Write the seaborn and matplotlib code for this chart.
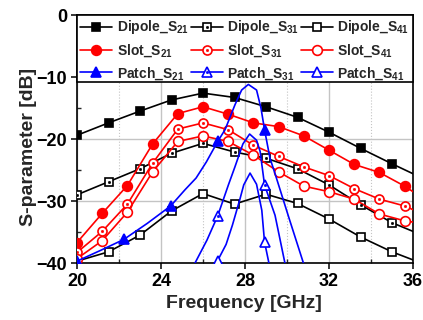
import numpy as np
import pandas as pd
import matplotlib
matplotlib.use("Agg")
import matplotlib.pyplot as plt
from matplotlib.legend_handler import HandlerTuple
from matplotlib.ticker import MultipleLocator
from matplotlib.patches import Rectangle
import seaborn as sns

# ---------------- data ----------------
dipole_x = [20, 21.5, 23, 24.5, 26, 27.5, 29, 30.5, 32, 33.5, 35, 36]
dipole_s21 = [-19.4, -17.4, -15.5, -13.7, -12.6, -13.3, -14.8, -16.5, -18.9, -21.5, -24.0, -25.6]
dipole_s31 = [-29.0, -26.9, -24.8, -22.3, -20.7, -22.1, -23.1, -24.8, -27.4, -30.6, -33.5, -34.9]
dipole_s41 = [-39.7, -38.2, -35.5, -31.6, -28.8, -30.5, -28.9, -30.4, -32.9, -35.8, -38.2, -39.5]
dipole_marks = list(range(11))

slot_x = [20, 21.2, 22.4, 23.6, 24.8, 26, 27.2, 28.4, 29.6, 30.8, 32, 33.2, 34.4, 35.6, 36]
slot_s21 = [-36.7, -32.0, -27.5, -20.8, -15.9, -14.8, -16.0, -17.4, -18.0, -19.5, -21.8, -24.1, -25.4, -27.6, -28.5]
slot_s31 = [-38.3, -34.9, -30.5, -23.9, -18.4, -17.4, -18.5, -21.0, -22.8, -24.5, -25.9, -28.0, -29.7, -30.8, -31.4]
slot_s41 = [-39.3, -36.4, -31.8, -25.3, -20.4, -19.5, -20.4, -22.6, -25.3, -27.6, -28.5, -29.7, -32.1, -33.2, -33.4]
slot_marks = list(range(14))

patch21_x = [20, 21.1, 22.23, 23.35, 24.46, 25.14, 25.67, 26.16, 26.7, 27.05, 27.52, 27.84,
             28.16, 28.55, 28.76, 28.93, 29.19, 29.45, 30.1, 30.8]
patch21_y = [-39.7, -38.0, -36.2, -33.6, -30.8, -28.2, -26.3, -23.7, -20.4, -18.5, -14.5, -12.1,
             -11.2, -12.1, -15.0, -18.5, -23.1, -25.8, -32.8, -40.2]
patch21_marks = [0, 2, 4, 8, 15]

patch31_x = [25.5, 25.62, 26.19, 26.7, 27.21, 27.52, 27.9, 28.22, 28.55, 28.72, 28.93, 29.43, 29.9, 30.0]
patch31_y = [-41.0, -40.0, -36.3, -32.4, -27.4, -24.5, -20.8, -19.2, -20.2, -22.0, -27.4, -32.3, -40.0, -41.5]
patch31_marks = [3, 10]

patch41_x = [26.7, 27.1, 27.4, 27.75, 27.94, 28.24, 28.55, 28.8, 28.93, 29.2]
patch41_y = [-39.6, -37.0, -33.9, -29.8, -27.4, -25.5, -27.3, -31.5, -36.6, -41.0]
patch41_marks = [0, 8]

# ---------------- style ----------------
sns.set_theme(style="white")
plt.rcParams["font.family"] = ["Liberation Sans", "DejaVu Sans"]
plt.rcParams["font.weight"] = "bold"
plt.rcParams["mathtext.fontset"] = "custom"
plt.rcParams["mathtext.rm"] = "Liberation Sans:bold"
plt.rcParams["mathtext.bf"] = "Liberation Sans:bold"
plt.rcParams["mathtext.it"] = "Liberation Sans:bold"

fig = plt.figure(figsize=(4.23, 3.20), dpi=100)
ax = fig.add_axes([77 / 423, 1 - 263 / 320, 336 / 423, 248 / 320])

BLACK, RED, BLUE = "#000000", "#FF0000", "#0000FF"
LW = 1.2


def draw(x, y, color, marker, ms, filled, marks, dotted=False):
    df = pd.DataFrame({"f": x, "s": y})
    n0 = len(ax.lines)
    sns.lineplot(data=df, x="f", y="s", ax=ax, color=color, linewidth=LW,
                 marker=marker, markersize=ms, markevery=marks,
                 markerfacecolor=(color if filled else "white"),
                 markeredgecolor=color, markeredgewidth=1.2,
                 estimator=None, sort=False, zorder=3)
    main = ax.lines[n0]
    if dotted:
        n1 = len(ax.lines)
        sns.lineplot(data=df, x="f", y="s", ax=ax, color=color, linewidth=0,
                     marker="o", markersize=1.6, markevery=marks,
                     markerfacecolor=color, markeredgecolor=color,
                     markeredgewidth=0.5, estimator=None, sort=False, zorder=4)
        dot = ax.lines[n1]
        return (main, dot)
    return main


h = {}
h["Dipole_21"] = draw(dipole_x, dipole_s21, BLACK, "s", 6, True, dipole_marks)
h["Dipole_31"] = draw(dipole_x, dipole_s31, BLACK, "s", 5.5, False, dipole_marks, dotted=True)
h["Dipole_41"] = draw(dipole_x, dipole_s41, BLACK, "s", 6, False, dipole_marks)
h["Slot_21"] = draw(slot_x, slot_s21, RED, "o", 7, True, slot_marks)
h["Slot_31"] = draw(slot_x, slot_s31, RED, "o", 6.5, False, slot_marks, dotted=True)
h["Slot_41"] = draw(slot_x, slot_s41, RED, "o", 7, False, slot_marks)
h["Patch_21"] = draw(patch21_x, patch21_y, BLUE, "^", 7.5, True, patch21_marks)
h["Patch_31"] = draw(patch31_x, patch31_y, BLUE, "^", 7, False, patch31_marks, dotted=True)
h["Patch_41"] = draw(patch41_x, patch41_y, BLUE, "^", 7.5, False, patch41_marks)

ax.set_xlim(20, 36)
ax.set_ylim(-40, 0)
ax.xaxis.set_major_locator(MultipleLocator(4))
ax.xaxis.set_minor_locator(MultipleLocator(2))
ax.yaxis.set_major_locator(MultipleLocator(10))
ax.yaxis.set_minor_locator(MultipleLocator(5))

ax.grid(True, which="major", color="#c4c4c4", linewidth=1.0, linestyle="-", zorder=0)
ax.grid(True, which="minor", axis="x", color="#c4c4c4", linewidth=0.8, linestyle=":", zorder=0)
ax.set_axisbelow(True)

ax.tick_params(which="major", direction="out", length=4, width=1.1, pad=3,
               labelsize=13, colors="black", bottom=True, left=True)
ax.tick_params(which="minor", direction="in", length=3, width=1.0, bottom=True, left=True)
for lab in ax.get_xticklabels() + ax.get_yticklabels():
    lab.set_fontweight("bold")
for sp in ax.spines.values():
    sp.set_color("black")
    sp.set_linewidth(1.2)

ax.set_xlabel("Frequency [GHz]", fontsize=14, fontweight="bold")
ax.set_ylabel("S-parameter [dB]", fontsize=14, fontweight="bold")
ax.xaxis.set_label_coords(0.498, -0.13)
ax.yaxis.set_label_coords(-0.118, 0.47)

# legend box (frame drawn as a rectangle so its height matches the reference)
box_bottom = (263 - 82) / 248
ax.add_patch(Rectangle((0, box_bottom), 1, 1 - box_bottom, transform=ax.transAxes,
                       facecolor="white", edgecolor="black", linewidth=1.2,
                       zorder=9, clip_on=False))

order = [("Dipole_21", "Dipole_S$_{21}$"), ("Slot_21", "Slot_S$_{21}$"), ("Patch_21", "Patch_S$_{21}$"),
         ("Dipole_31", "Dipole_S$_{31}$"), ("Slot_31", "Slot_S$_{31}$"), ("Patch_31", "Patch_S$_{31}$"),
         ("Dipole_41", "Dipole_S$_{41}$"), ("Slot_41", "Slot_S$_{41}$"), ("Patch_41", "Patch_S$_{41}$")]
handles = [h[k] for k, _ in order]
labels = [l for _, l in order]
leg = ax.legend(handles, labels, ncol=3, loc="upper left",
                bbox_to_anchor=(0.0, 0.0, 1.0, 1.0), mode="expand",
                handler_map={tuple: HandlerTuple(ndivide=1)},
                prop={"family": "Liberation Sans", "weight": "bold", "size": 10},
                handlelength=2.3, handletextpad=0.35, columnspacing=0.4,
                labelspacing=0.42, borderpad=0.25, borderaxespad=0.0,
                frameon=False)
leg.set_zorder(10)

fig.savefig("out.png", dpi=100)
